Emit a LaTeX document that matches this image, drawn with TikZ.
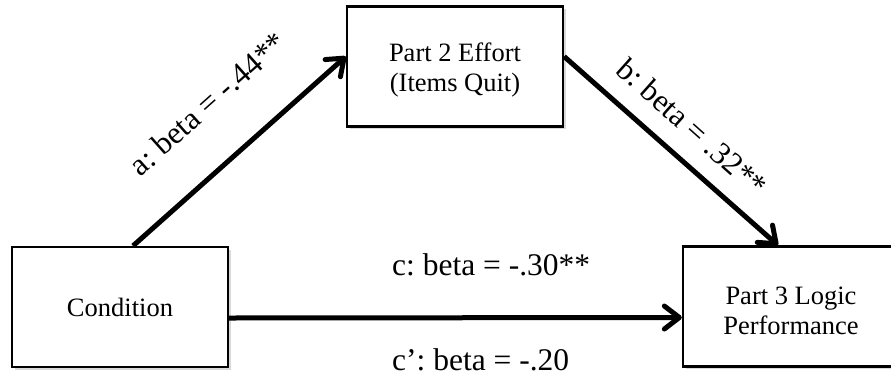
\documentclass[tikz,border=0pt]{standalone}
\usepackage{fontspec}
\setmainfont{Liberation Serif}
\usetikzlibrary{arrows.meta,calc,shadows}

\newcommand\boxfont{\fontsize{26.5}{29.5}\selectfont}
\newcommand\coeffont{\fontsize{31.5}{36}\selectfont}
\newcommand\toppad{\rule{0pt}{26pt}}

\tikzset{
  box/.style={draw, line width=2.3pt, fill=white,
    minimum width=216pt, minimum height=120pt, align=center, font=\boxfont,
    drop shadow={shadow xshift=2.5pt, shadow yshift=-2.5pt, opacity=0.15, fill=black}},
  link/.style={line width=5pt, -{Straight Barb[length=15pt,width=23pt,round]}},
  coef/.style={font=\coeffont, inner sep=0pt},
}

\begin{document}
\frenchspacing
\begin{tikzpicture}[x=1pt, y=-1pt]
  \useasboundingbox (0,0) rectangle (891,381);

  % variables of the mediation model
  \node[box] (cond)   at (120,307)  {Condition};
  \node[box] (effort) at (455,66.5) {\toppad Part 2 Effort\\(Items Quit)};
  \node[box] (logic)  at (791,306.5) {\toppad Part 3 Logic\\Performance};

  % end points of the paths
  \coordinate (a1) at ([xshift=13pt]cond.north);
  \coordinate (a2) at ([yshift=10pt]effort.west);
  \coordinate (b1) at ([yshift=10pt]effort.east);
  \coordinate (b2) at ([xshift=-13pt]logic.north);
  \coordinate (c1) at ([yshift=-11pt]cond.east);
  \coordinate (c2) at ([yshift=-11pt]logic.west);

  \draw[link] (a1) -- (a2);
  \draw[link] (b1) -- (b2);
  \draw[link] (c1) -- (c2);

  % path coefficients
  \coordinate (am0) at ($(a1)!0.5!(a2)$);
  \coordinate (am) at ($(am0)!8pt!(a2)$);
  \coordinate (bm) at ($(b1)!0.5!(b2)$);
  \node[coef, anchor=base, rotate=41.7] (la) at ($(am)!46pt!90:(a2)$) {a: beta = -.44**};
  \node[coef, anchor=base, rotate=-41.7] (lb) at ($(bm)!21pt!90:(b2)$) {b: beta = .32**};
  \node[coef, anchor=base west] (lc) at (392,275) {c: beta = -.30**};
  \node[coef, anchor=base west] (lcp) at (392,370) {c’: beta = -.20};
\end{tikzpicture}
\end{document}
